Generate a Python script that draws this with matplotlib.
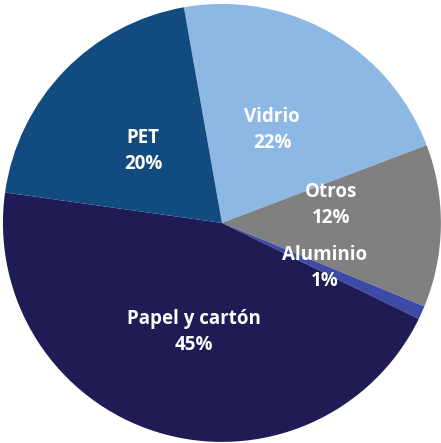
import matplotlib
matplotlib.use("Agg")
import matplotlib.pyplot as plt

categories = ["Vidrio", "Otros", "Aluminio", "Papel y cartón", "PET"]
values = [22, 12, 1, 45, 20]
colors = ["#8DB8E3", "#808080", "#3D4BA8", "#1E1B55", "#114B80"]
# label positions (x, y) in axes data units (pie radius = 1)
label_pos = [(0.23, 0.425), (0.50, 0.08), (0.47, -0.205), (-0.13, -0.50), (-0.36, 0.33)]

fig = plt.figure(figsize=(4.41, 4.43), dpi=100)
ax = fig.add_axes([0, 0, 1, 1])
ax.pie(values, colors=colors, startangle=100, counterclock=False,
       radius=1.0, wedgeprops=dict(linewidth=0))
for cat, v, (x, y) in zip(categories, values, label_pos):
    ax.text(x, y, f"{cat}\n{v}%", ha="center", va="center", color="white",
            fontsize=13.5, fontweight="bold", family=["Open Sans", "DejaVu Sans"],
            linespacing=1.4)
ax.set_xlim(-1.013, 1.0)
ax.set_ylim(-1.005, 1.018)
ax.set_aspect("equal")
ax.axis("off")
fig.savefig("out.png", dpi=100, facecolor="white")
